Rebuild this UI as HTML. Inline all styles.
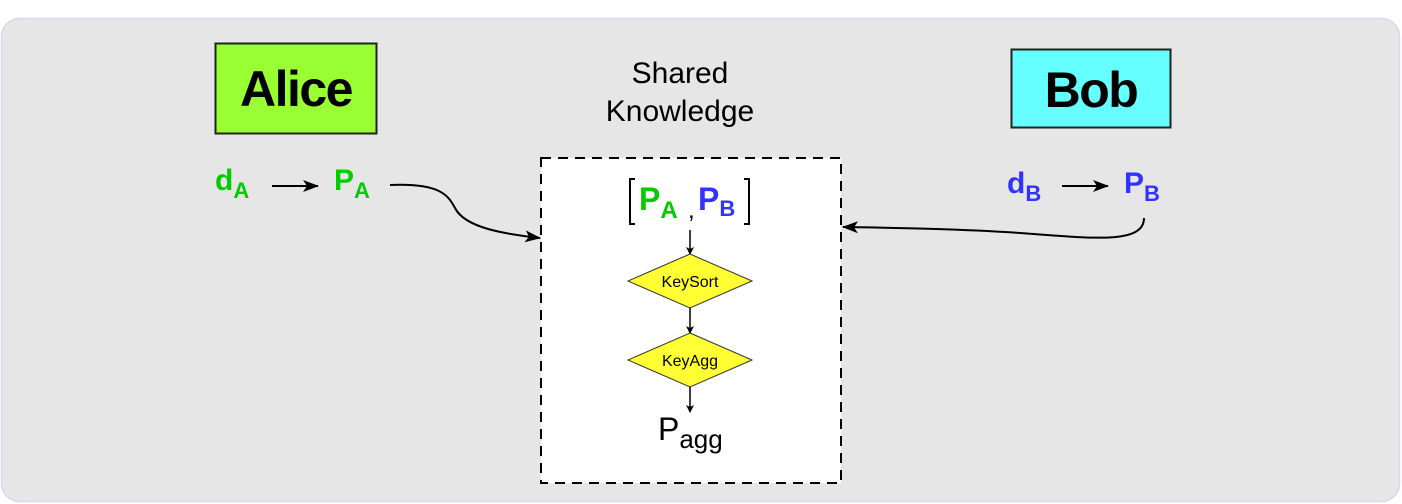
<!DOCTYPE html>
<html><head><meta charset="utf-8"><style>
html,body{margin:0;padding:0;background:#fff;}
svg{display:block;font-family:"Liberation Sans",Arial,sans-serif;}
</style></head><body>
<svg width="1402" height="504" viewBox="0 0 1402 504" xmlns="http://www.w3.org/2000/svg">
<defs>
<marker id="ar" markerWidth="16" markerHeight="12" refX="15" refY="6" orient="auto" markerUnits="userSpaceOnUse">
<path d="M0,0 L16,6 L0,12 L4,6 Z" fill="#000"/></marker>
<marker id="as" markerWidth="8" markerHeight="8" refX="7" refY="4" orient="auto" markerUnits="userSpaceOnUse">
<path d="M0,0 L8,4 L0,8 L2,4 Z" fill="#000"/></marker>
</defs>
<rect x="1.5" y="18.5" width="1398" height="483" rx="18" fill="#e6e6e6" stroke="#dcd4f4" stroke-width="1.5"/>
<rect x="215.5" y="43.5" width="161" height="90" fill="#99ff33" stroke="#222" stroke-width="2"/>
<text x="296" y="106" font-size="50" font-weight="bold" text-anchor="middle" letter-spacing="-1.5">Alice</text>
<rect x="1011.5" y="49.5" width="159" height="78" fill="#66ffff" stroke="#222" stroke-width="2"/>
<text x="1091" y="107" font-size="50" font-weight="bold" text-anchor="middle" letter-spacing="-1.5">Bob</text>
<text x="680" y="83" font-size="30" text-anchor="middle">Shared</text>
<text x="680" y="121" font-size="30" text-anchor="middle">Knowledge</text>
<rect x="541" y="158" width="300" height="325" fill="#fff" stroke="#000" stroke-width="2" stroke-dasharray="10,7"/>
<g fill="#00cc00" font-weight="bold">
<text x="215" y="190" font-size="30">d<tspan font-size="22" dy="8">A</tspan></text>
<text x="334" y="190" font-size="30">P<tspan font-size="22" dy="8">A</tspan></text>
</g>
<line x1="272" y1="186" x2="318" y2="186" stroke="#000" stroke-width="2" marker-end="url(#ar)"/>
<g fill="#3333ff" font-weight="bold">
<text x="1007" y="193" font-size="30">d<tspan font-size="22" dy="8">B</tspan></text>
<text x="1124" y="193" font-size="30">P<tspan font-size="22" dy="8">B</tspan></text>
</g>
<line x1="1062" y1="186" x2="1108" y2="186" stroke="#000" stroke-width="2" marker-end="url(#ar)"/>
<path d="M390,185 C440,183 448,195 455,208 C465,228 505,234 540,238" fill="none" stroke="#000" stroke-width="2" marker-end="url(#ar)"/>
<path d="M1144,218 C1144,245 1090,238 1020,233 C960,229 900,228 843,227" fill="none" stroke="#000" stroke-width="2" marker-end="url(#ar)"/>
<path d="M635,179 h-5 v45 h5 M744,179 h5 v45 h-5" fill="none" stroke="#000" stroke-width="2"/>
<text x="639" y="210" font-size="32" font-weight="bold" fill="#00cc00">P<tspan font-size="24" dy="8">A</tspan></text>
<text x="688" y="218" font-size="24" fill="#000">,</text>
<text x="698" y="210" font-size="32" font-weight="bold" fill="#3333ff">P<tspan font-size="22" dy="6">B</tspan></text>
<line x1="690" y1="230" x2="690" y2="254" stroke="#000" stroke-width="1.5" marker-end="url(#as)"/>
<polygon points="690,254 752,281 690,308 628,281" fill="#ffff33" stroke="#333" stroke-width="1"/>
<text x="690" y="287" font-size="16" text-anchor="middle">KeySort</text>
<line x1="690" y1="308" x2="690" y2="333" stroke="#000" stroke-width="1.5" marker-end="url(#as)"/>
<polygon points="690,333 752,360 690,387 628,360" fill="#ffff33" stroke="#333" stroke-width="1"/>
<text x="690" y="366" font-size="16" text-anchor="middle">KeyAgg</text>
<line x1="690" y1="387" x2="690" y2="412" stroke="#000" stroke-width="1.5" marker-end="url(#as)"/>
<text x="658" y="440" font-size="32">P<tspan font-size="26" dy="8">agg</tspan></text>
</svg>
</body></html>
